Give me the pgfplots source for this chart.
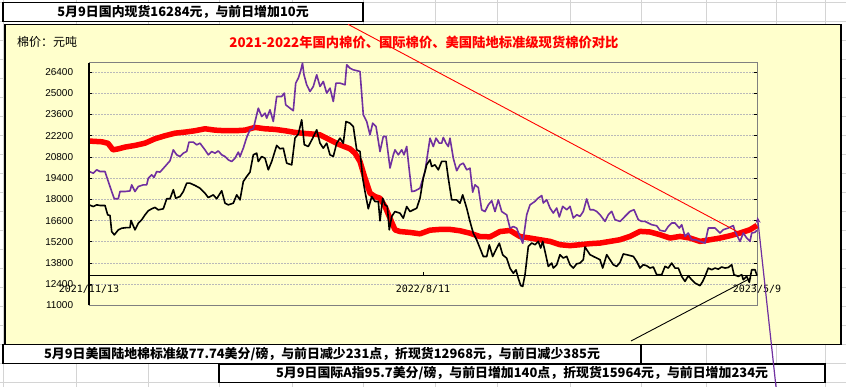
\documentclass[border=0pt]{standalone}
\usepackage{pgfplots}
\pgfplotsset{compat=1.18}
\usepackage{pgfplotstable}
\usepackage{fontspec}
\usetikzlibrary{arrows.meta}
\setmainfont{Liberation Sans}
\newfontfamily\cjk{Noto Sans CJK SC}
\newfontfamily\monof{DejaVu Sans Mono}
\definecolor{chartbg}{RGB}{255,255,204}
\definecolor{cellgrid}{RGB}{212,212,212}
\definecolor{plotborder}{RGB}{128,128,128}
\definecolor{gridc}{RGB}{185,185,185}
\definecolor{purp}{RGB}{112,48,160}

\pgfplotstableread{
x y
0 21850
13 21800
19 21700
24 21270
29 21330
36 21450
46 21560
56 21710
66 22000
76 22200
86 22370
96 22440
106 22530
116 22660
126 22570
136 22530
146 22530
156 22570
166 22750
176 22660
186 22620
196 22530
206 22420
216 22350
226 22300
231 22260
241 21930
251 21600
261 21340
266 21050
271 20500
276 19400
281 18410
286 18190
291 18080
296 17530
301 16760
306 15990
311 15880
321 15820
331 15730
341 15970
351 16020
361 16020
371 15930
381 15770
391 15550
401 15530
411 15880
421 15950
431 15550
441 15450
451 15340
461 15230
471 15010
481 14950
491 15010
501 15080
511 15120
521 15230
531 15340
541 15560
551 15890
561 15850
571 15670
581 15450
591 15560
601 15450
611 15230
621 15340
631 15450
641 15600
651 15780
661 16000
668 16284
}\domestic

\pgfplotstableread{
x y
0 19840
4.3 19730
7.7 19950
11 19840
16 19840
19.3 19180
22.7 18520
25.3 18040
29.3 18040
31 18520
36 18520
41 18560
42.7 18960
46 18520
49.3 18850
54.3 18960
57.7 18960
59.3 19400
62.7 19620
65 19450
67.7 19840
71 19800
76 20170
81 20550
84.3 21270
87.7 20940
91 20830
94.3 21050
97.7 21160
100 21780
104.3 21780
107.7 21600
111 21710
116 21270
119.3 20940
122.7 21160
126 21050
129.3 21200
132.7 20940
136 20830
139.3 20610
142.7 20500
146 20720
149.3 21120
151 20830
154.3 21380
157.7 22090
161 22590
164.3 22660
167.7 23580
169.3 24020
172.7 23470
176 23690
177.7 23360
181 23910
184.3 23140
187.7 24790
192.7 24790
195.3 25010
196.7 24240
201 24020
204.3 23850
206.7 25670
209.3 26000
211.5 26440
213.5 26990
215 26220
217.7 25560
221 25120
224.3 25450
227.7 26220
231 25450
234.3 25780
237.7 25010
241 25340
244.3 24460
247 25670
251 25670
256 25560
257.7 26880
261 26660
264.3 26550
271 26440
274.3 23580
277.7 23140
281 22260
283.7 23030
287 22810
291 21160
294.3 22150
297 22150
301 20070
304.3 20940
306 21270
309.3 20940
312.7 21270
315 20940
317.7 21490
319.3 20500
322.7 18520
326 18560
331 18740
336 19840
341 22040
344.3 21490
347 22040
350.3 21710
352.7 21710
354.3 22090
357 21710
359.3 21490
361 22040
364.3 20720
367.7 19890
371 20280
374.3 20390
377.7 19950
381 20060
383.7 18480
386 18960
389.3 18780
392.7 17310
396 17200
399.3 17640
402.7 17910
406 17200
409.3 17970
412.7 17200
417.7 16980
421 16100
424.3 16210
427.7 16100
430.3 15660
433.7 15110
437.7 16980
441 17640
446 17870
449.3 18090
452.7 18250
454.3 17760
457.7 17980
461 17430
464.3 17100
467.7 17430
470.3 16840
473.7 17540
477.7 17320
481 17540
484.3 16770
487.7 16990
491 16880
494.3 17210
497.7 18030
501 17320
504.3 17320
507.7 17210
511 16990
516 16550
519.3 16990
522.7 17210
526 16660
531 16550
536 16880
541 17210
545 17320
549.3 16660
552.7 16550
556 16550
559.3 16440
562.7 16330
567.7 16260
571 15960
576 15890
579.3 16220
582.7 16440
586 16440
590.3 16110
592.7 16330
596 15560
599.3 15780
602.7 15340
606 15340
611 15230
616 15120
619.3 16110
622.7 16110
626 16110
631 15780
634.3 16000
639.3 16110
644.3 16270
646 15890
651 15230
654.3 15780
657.7 15450
661 15230
662.7 15780
666 15830
668 15964
}\intl

\pgfplotstableread{
x y
0 17640
4.3 17530
7.7 17640
11 17600
16 17600
18.7 16980
21 16940
22.7 15880
25.3 15660
29.3 15990
32.7 16100
37.7 16140
41 16140
42 16610
46 15990
49.3 16430
52.7 16650
56 16980
59.3 17250
62.7 17380
66 17470
69.3 17310
74.3 17380
77.7 18040
81 18040
84.3 18640
86.7 18080
91 18190
94.3 18520
97.7 19070
101 19070
106 18920
111 18740
116 18410
119.3 18120
124.3 18300
127.7 18040
132.7 18570
136 17750
139.3 17640
144.3 17750
147.7 18300
151 17970
154.3 19180
157.7 19510
161 19800
164.3 20940
167.7 21050
169.3 20500
172.7 20830
176 20720
179.3 19950
182.7 20500
187.7 21560
191 21340
194.3 21380
197.7 20390
202.7 20280
206 22050
209.3 22310
212.7 23250
215.3 21610
219.3 21490
223.7 22040
227.7 22590
231 21710
234.3 21380
237.7 21710
241 20940
244.3 20830
247.7 21710
251 22040
254.3 21710
257 23140
261 23030
264.3 22810
267.7 21270
271 21160
273.7 19400
276 18520
279.3 17380
282.7 18190
286 17860
289.3 17860
291 16590
293.7 18080
296 17640
298.3 17530
300.3 15990
302.7 16870
306 17200
311 17090
314.3 16760
317.7 17530
321 17200
324.3 17310
327.7 17420
331 18080
334.3 19400
337.7 20290
341 20610
342.7 20170
346 20280
349.3 19950
352.7 20510
357 20510
359.3 19400
362.7 17970
367.7 17970
371 17750
373.7 18300
377.7 17420
381 16540
384.3 15770
387.7 15330
391 14780
394.3 14230
397.7 14230
400.3 15000
403.7 14230
406 14560
410.3 15110
413.7 14340
417.7 14120
421 13460
424.3 13130
427 13350
429.3 12800
431.7 12320
433.7 12260
436 13020
439.3 14890
442.7 15120
446 15010
449.3 15230
451.7 14790
453.7 15230
456 14570
459.3 13580
462.7 13800
464.3 13470
467.7 13690
471 14350
474.3 14130
477.7 14240
481 13690
484.3 13470
487.7 13750
491 13800
494.3 14020
496 14860
501 14350
504.3 14240
511 14020
513.7 13470
517.7 14350
521 14020
524.3 13690
527.7 13580
531 13840
534.3 14400
537.7 14350
544.3 14240
547.7 13910
551 13470
554.3 13690
557.7 13620
561 13470
564.3 13540
567.7 13030
572.7 13030
576 13580
579.3 13470
582.7 13800
586 13470
589.3 13470
592.7 12920
596 12590
599.3 12960
602.7 12700
606 12480
611 12310
613.7 12590
616 12920
619.3 13470
622.7 13360
626 13470
629.3 13400
632.7 13540
636 13470
639.3 13510
642.7 13690
645 13030
649.3 12920
652.7 13030
654.3 12700
657.7 12920
660.3 12530
662.7 13360
666 13360
668 12968
}\usupland

\begin{document}
\begin{tikzpicture}[x=1pt,y=1pt]
\useasboundingbox (0,0) rectangle (846,387);
\fill[white] (0,0) rectangle (846,387);
% spreadsheet cells
\foreach \yy in {4.7,23.7,42.7,61.7,80.7,99.7,118.7,137.7,156.7,175.7,194.7,213.7,232.7,251.7,270.7,289.7,308.7,327.7,346.7,365.7,384.7}
  \draw[cellgrid, line width=0.8pt] (0,\yy) -- (846,\yy);
\foreach \xx in {3,76,148,219,292,363,435,497,570,641,706,776,825}
  \draw[cellgrid, line width=0.8pt] (\xx,0) -- (\xx,387);
% top text box
\draw[fill=white, line width=1.2pt] (3,384.7) rectangle (363,365.7);
\node[font=\cjk\bfseries\fontsize{12.9}{14}\selectfont, inner sep=0pt] at (183,375.2) {5月9日国内现货16284元，与前日增加10元};
% chart area
\draw[fill=chartbg, line width=1.2pt] (5,362.7) rectangle (841,42.7);
\node[font=\cjk\fontsize{12}{14}\selectfont, anchor=west, inner sep=0pt] at (17,345) {棉价：元吨};
\node[font=\cjk\bfseries\fontsize{13.3}{15}\selectfont, text=red, inner sep=0pt] at (424,345) {2021-2022年国内棉价、国际棉价、美国陆地标准级现货棉价对比};

\begin{axis}[
  at={(89pt,81.5pt)}, anchor=south west,
  scale only axis, width=668pt, height=242.5pt,
  xmin=0, xmax=668, ymin=11000, ymax=27000,
  axis line style={plotborder, line width=1pt},
  ytick={11000,12400,...,26400},
  scaled y ticks=false,
  ymajorgrids,
  grid style={gridc, line width=0.8pt, dash pattern=on 2pt off 1pt},
  tick align=inside, major tick length=3pt,
  ytick style={black, line width=0.8pt},
  yticklabel style={font=\fontsize{10}{12}\selectfont, anchor=east, inner sep=0pt, xshift=-15.7pt},
  /pgf/number format/assume math mode=true,
  /pgf/number format/set thousands separator={},
  xtick={0,334,668},
  xticklabels={2021/11/13,2022/8/11,2023/5/9},
  xtick style={draw=none},
  xticklabel style={font=\monof\fontsize{10}{12}\selectfont, anchor=center, inner sep=0pt, yshift=16.5pt},
  clip=false,
]
\draw[black, line width=1.1pt] (axis cs:0,13000) -- (axis cs:668,13000);
\draw[black, line width=0.8pt] (axis cs:334,13000) -- ++(0pt,3pt);
\addplot[red, line width=5.5pt, line join=round] table[x=x,y=y] {\domestic};
\addplot[purp, line width=1.6pt, line join=round] table[x=x,y=y] {\intl};
\addplot[black, line width=1.6pt, line join=round] table[x=x,y=y] {\usupland};
\draw[black, line width=1.1pt] (rel axis cs:0,0) -- (rel axis cs:0,1);
\end{axis}

% bottom boxes
\draw[fill=white, line width=1.2pt] (3,42.7) rectangle (641,23.7);
\node[font=\cjk\bfseries\fontsize{12.9}{14}\selectfont, inner sep=0pt] at (322,33.2) {5月9日美国陆地棉标准级77.74美分/磅，与前日减少231点，折现货12968元，与前日减少385元};
\draw[fill=white, line width=1.2pt] (219,23) rectangle (825,4.3);
\node[font=\cjk\bfseries\fontsize{12.9}{14}\selectfont, inner sep=0pt] at (522,13.6) {5月9日国际A指95.7美分/磅，与前日增加140点，折现货15964元，与前日增加234元};
% connectors
\draw[red, line width=0.9pt] (348,362.7) -- (738,155);
\draw[black, line width=0.9pt] (631,46) -- (751,109);
\draw[purp, line width=1.2pt, -{Stealth[length=6pt,width=5pt]}] (776,0) -- (757.5,170);
\end{tikzpicture}
\end{document}
